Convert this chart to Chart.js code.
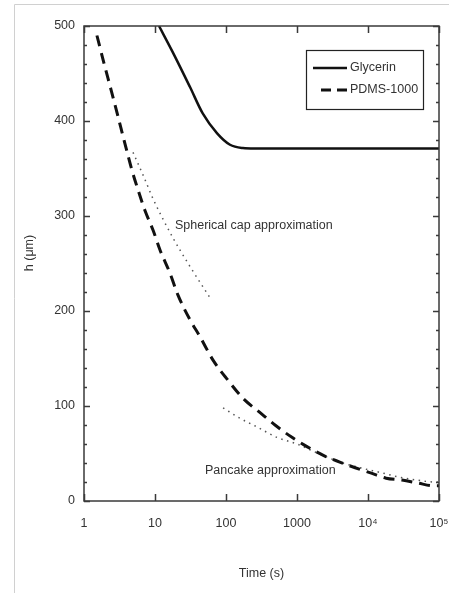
<!DOCTYPE html>
<html><head><meta charset="utf-8">
<style>html,body{margin:0;padding:0;background:#fff;}#wrap{width:449px;height:593px;}</style>
<script src="https://cdn.jsdelivr.net/npm/chart.js@4.4.0/dist/chart.umd.min.js"></script>
</head><body><div id="wrap"><canvas id="c" width="449" height="593"></canvas></div>
<script>
// ---- data ----
const glycerinT = [11.4, 17.9, 31, 47, 75, 114, 173, 250, 100000];
const glycerinH = [500, 472, 436, 408, 387, 375, 371.5, 371, 371];

const pdmsT = [1.52, 1.91, 2.4, 2.82, 3.1, 3.9, 4.7, 5.8, 7.2, 9.4, 11.8, 16.2, 21, 31, 43, 66, 107, 174, 302, 490, 850, 1400, 2350, 4000, 6600, 11400, 18000, 30000, 50000, 83000, 100000];
const pdmsH = [490, 461, 433, 413, 401, 372, 349, 327, 306, 285, 264, 240, 217, 191, 173, 148, 127, 108, 93, 80, 67, 57, 48, 41, 35, 29, 24, 22, 19, 16, 16];

const sphT = [4.9, 6.8, 9.4, 12.5, 17.9, 31, 59.5];
const sphH = [367, 343, 318, 299, 277, 247, 214];

const panT = [91, 158, 273, 520, 1000, 1520, 2500, 4000, 10000, 16000, 28000, 49000, 87000, 100000];
const panH = [98, 87, 78, 67, 60, 54, 47, 41, 33, 29.5, 25, 22, 20, 20];

const seriesLabels = ['Glycerin', 'PDMS-1000'];
const xTickValues = [1, 10, 100, 1000, 10000, 100000];
const xTickLabels = ['1', '10', '100', '1000', '10\u2074', '10\u2075'];
const yTickValues = [0, 100, 200, 300, 400, 500];
const noteTexts = ['Spherical cap approximation', 'Pancake approximation'];
const noteT = [19.1, 50.6];
const noteH = [289.5, 31.6];
const xTitle = 'Time (s)';
const yTitle = 'h (\u03BCm)';

// ---- helpers ----
const FONT = "'Liberation Sans',Arial,sans-serif";
const FS = 12.5;
const TXT = '#333';
const toXY = (ts, hs) => ts.map((t, i) => ({x: t, y: hs[i]}));

const framePlugin = {
  id: 'frame',
  beforeDraw(chart) {
    const ctx = chart.ctx;
    ctx.save();
    ctx.strokeStyle = '#d0d0d0';
    ctx.lineWidth = 1;
    ctx.beginPath();
    ctx.moveTo(14.5, 593); ctx.lineTo(14.5, 4.5); ctx.lineTo(449, 4.5);
    ctx.stroke();
    // y title
    ctx.fillStyle = TXT;
    ctx.font = FS + 'px ' + FONT;
    ctx.textAlign = 'center';
    ctx.textBaseline = 'middle';
    ctx.translate(30, 253);
    ctx.rotate(-Math.PI / 2);
    ctx.fillText(yTitle, 0, 0);
    ctx.restore();
  },
  afterDatasetsDraw(chart) {
    const ctx = chart.ctx;
    const a = chart.chartArea;
    const xs = chart.scales.x, ys = chart.scales.y;
    ctx.save();
    ctx.strokeStyle = '#3a3a3a';
    ctx.lineWidth = 1.5;
    ctx.strokeRect(a.left, a.top, a.right - a.left, a.bottom - a.top);
    ctx.beginPath();
    for (let v = 0; v <= 500; v += 20) {
      const y = Math.round(ys.getPixelForValue(v)) + 0.5;
      const len = (v % 100 === 0) ? 6 : 3;
      ctx.moveTo(a.left, y); ctx.lineTo(a.left + len, y);
      ctx.moveTo(a.right, y); ctx.lineTo(a.right - len, y);
    }
    xTickValues.forEach(v => {
      const x = Math.round(xs.getPixelForValue(v)) + 0.5;
      ctx.moveTo(x, a.bottom); ctx.lineTo(x, a.bottom - 7);
      ctx.moveTo(x, a.top); ctx.lineTo(x, a.top + 7);
    });
    ctx.stroke();

    // annotations
    ctx.fillStyle = TXT;
    ctx.font = FS + 'px ' + FONT;
    ctx.textAlign = 'left';
    ctx.textBaseline = 'middle';
    noteTexts.forEach((t, i) => {
      ctx.fillText(t, xs.getPixelForValue(noteT[i]), ys.getPixelForValue(noteH[i]));
    });

    // legend
    const lx = 306, ly = 50, lw = 117, lh = 59;
    ctx.fillStyle = '#fff';
    ctx.fillRect(lx, ly, lw, lh);
    ctx.strokeStyle = '#222';
    ctx.lineWidth = 1.2;
    ctx.strokeRect(lx + 0.5, ly + 0.5, lw, lh);
    const ds = chart.data.datasets;
    [0, 1].forEach(i => {
      const y = ly + 18 + i * 22;
      ctx.save();
      ctx.strokeStyle = ds[i].borderColor;
      ctx.lineWidth = ds[i].borderWidth;
      ctx.setLineDash(i === 0 ? [] : [10, 6]);
      ctx.beginPath();
      if (i === 0) { ctx.moveTo(313, y); ctx.lineTo(347, y); }
      else { ctx.moveTo(321, y); ctx.lineTo(347, y); }
      ctx.stroke();
      ctx.restore();
      ctx.fillStyle = TXT;
      ctx.fillText(ds[i].label, 350, y);
    });
    ctx.restore();
  }
};

new Chart(document.getElementById('c'), {
  type: 'line',
  data: {
    datasets: [
      {label: seriesLabels[0], data: toXY(glycerinT, glycerinH), borderColor: '#111', borderWidth: 2.5, pointRadius: 0, cubicInterpolationMode: 'monotone', fill: false},
      {label: seriesLabels[1], data: toXY(pdmsT, pdmsH), borderColor: '#111', borderWidth: 3, borderDash: [11, 7], pointRadius: 0, cubicInterpolationMode: 'monotone', fill: false},
      {label: 'sph', data: toXY(sphT, sphH), borderColor: '#555', borderWidth: 1.5, borderDash: [1.5, 4.5], pointRadius: 0, cubicInterpolationMode: 'monotone', fill: false},
      {label: 'pan', data: toXY(panT, panH), borderColor: '#555', borderWidth: 1.5, borderDash: [1.5, 4.5], pointRadius: 0, cubicInterpolationMode: 'monotone', fill: false}
    ]
  },
  options: {
    responsive: false,
    animation: false,
    devicePixelRatio: 1,
    layout: {padding: {left: 0, right: 10, top: 26, bottom: 0}},
    plugins: {legend: {display: false}, tooltip: {enabled: false}},
    scales: {
      x: {
        type: 'logarithmic', min: 1, max: 100000,
        grid: {display: false, drawTicks: false}, border: {display: false},
        afterBuildTicks: s => { s.ticks = xTickValues.map(v => ({value: v})); },
        afterFit: s => { s.height = 92; s.paddingLeft = 0; s.paddingRight = 0; },
        ticks: {
          autoSkip: false, maxRotation: 0, padding: 15, color: TXT,
          font: {family: FONT, size: FS},
          callback: (v) => { const i = xTickValues.indexOf(v); return i >= 0 ? xTickLabels[i] : ''; }
        },
        title: {display: true, text: xTitle, color: TXT, font: {family: FONT, size: FS}, padding: {top: 0, bottom: 12}}
      },
      y: {
        min: 0, max: 500,
        grid: {display: false, drawTicks: false}, border: {display: false},
        afterBuildTicks: s => { s.ticks = yTickValues.map(v => ({value: v})); },
        afterFit: s => { s.width = 84; s.paddingTop = 0; s.paddingBottom = 0; },
        ticks: {padding: 9, color: TXT, font: {family: FONT, size: FS}}
      }
    }
  },
  plugins: [framePlugin]
});
</script>
</body></html>
